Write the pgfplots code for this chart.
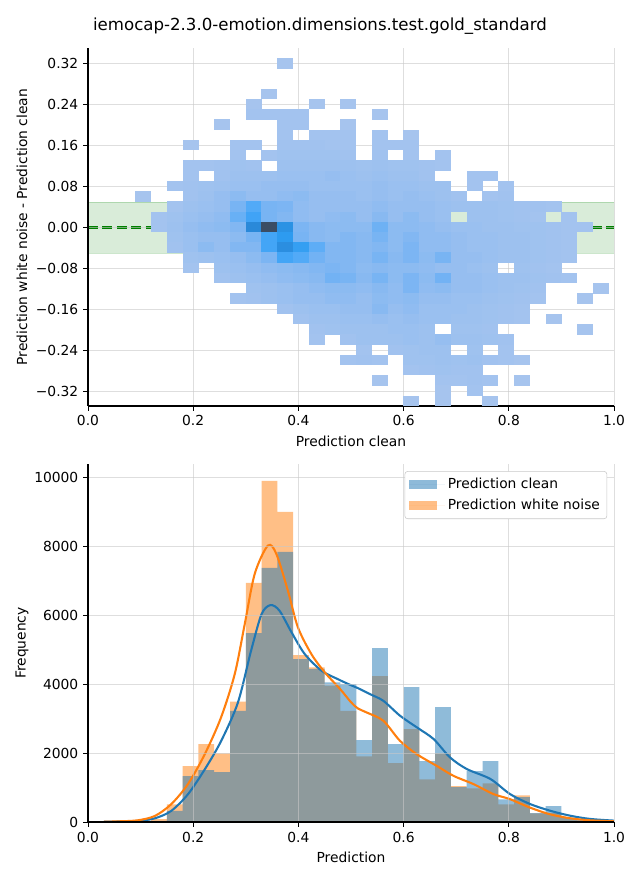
\documentclass[border=0pt]{standalone}
\usepackage{fontspec}
\setmainfont{DejaVu Sans}
\usepackage{pgfplots}
\pgfplotsset{compat=1.18}
\definecolor{cZero}{HTML}{1F77B4}
\definecolor{cOne}{HTML}{FF7F0E}
\definecolor{mplgreen}{RGB}{0,128,0}
\definecolor{gridc}{RGB}{200,200,200}
\pgfdeclareplotmark{cell}{\pgfpathrectangle{\pgfpoint{-5.78pt}{-3.78pt}}{\pgfpoint{11.56pt}{7.56pt}}\pgfusepathqfill}
\pgfplotsset{
  common/.style={
    scale only axis, width=5.26in, height=3.58in,
    axis x line*=bottom, axis y line*=left,
    tick align=outside, major tick length=3.5pt,
    tick style={black, line width=0.6pt},
    axis line style={black, line width=0.8pt},
    grid=major, grid style={draw=gridc, draw opacity=0.6, line width=0.6pt},
    axis on top,
    xmin=0, xmax=1,
    xtick={0,0.2,0.4,0.6,0.8,1},
    xticklabels={0.0,0.2,0.4,0.6,0.8,1.0},
    tick label style={font=\fontsize{10}{12}\selectfont},
    label style={font=\fontsize{10}{12}\selectfont},
    xlabel style={at={(axis description cs:0.5,-0.0978)}, anchor=center},
    ylabel style={at={(axis description cs:-0.1255,0.5)}, anchor=center, rotate=0},
  }
}
\begin{document}
\begin{tikzpicture}
\path[use as bounding box] (0,0) rectangle (6.4in,8.8in);
\node[font=\fontsize{12}{14}\selectfont] at (3.2in,8.535in) {iemocap-2.3.0-emotion.dimensions.test.gold\_standard};
\begin{axis}[common,
  at={(0.88in,4.74in)}, anchor=south west,
  ymin=-0.349, ymax=0.351,
  ytick={-0.32,-0.24,-0.16,-0.08,0,0.08,0.16,0.24,0.32},
  yticklabels={−0.32,−0.24,−0.16,−0.08,0.00,0.08,0.16,0.24,0.32},
  xlabel={Prediction clean},
  ylabel={Prediction white noise - Prediction clean},
  colormap={sb}{rgb255(0pt)=(170,198,238); rgb255(15pt)=(150,190,240); rgb255(30pt)=(120,180,243); rgb255(45pt)=(72,167,248); rgb255(55pt)=(45,155,240); rgb255(70pt)=(40,128,205); rgb255(100pt)=(59,77,100)},
  point meta min=0, point meta max=1,
]
\addplot[fill=mplgreen, fill opacity=0.15, draw=mplgreen, draw opacity=0.2] coordinates {(0,-0.05) (1,-0.05) (1,0.05) (0,0.05)} -- cycle;
\addplot[scatter, only marks, mark=cell, point meta=explicit, scatter/use mapped color={draw=mapped color, fill=mapped color}] coordinates {
(0.375,0.321)[0.03]
(0.345,0.261)[0.03]
(0.315,0.241)[0.03] (0.435,0.241)[0.03] (0.495,0.241)[0.03]
(0.315,0.221)[0.05] (0.345,0.221)[0.05] (0.375,0.221)[0.05] (0.405,0.221)[0.05] (0.555,0.221)[0.03]
(0.255,0.201)[0.03] (0.375,0.201)[0.05] (0.405,0.201)[0.05] (0.495,0.201)[0.03]
(0.375,0.181)[0.05] (0.435,0.181)[0.05] (0.465,0.181)[0.05] (0.495,0.181)[0.05] (0.555,0.181)[0.05] (0.615,0.181)[0.03]
(0.195,0.161)[0.03] (0.285,0.161)[0.05] (0.315,0.161)[0.05] (0.375,0.161)[0.07] (0.405,0.161)[0.07] (0.435,0.161)[0.07] (0.465,0.161)[0.05] (0.495,0.161)[0.05] (0.555,0.161)[0.05] (0.585,0.161)[0.05] (0.615,0.161)[0.05]
(0.285,0.141)[0.05] (0.345,0.141)[0.05] (0.375,0.141)[0.08] (0.405,0.141)[0.08] (0.435,0.141)[0.08] (0.465,0.141)[0.08] (0.495,0.141)[0.07] (0.555,0.141)[0.07] (0.615,0.141)[0.05] (0.675,0.141)[0.05]
(0.195,0.121)[0.05] (0.225,0.121)[0.05] (0.255,0.121)[0.07] (0.285,0.121)[0.08] (0.315,0.121)[0.07] (0.375,0.121)[0.1] (0.405,0.121)[0.1] (0.435,0.121)[0.1] (0.465,0.121)[0.1] (0.495,0.121)[0.1] (0.525,0.121)[0.08] (0.555,0.121)[0.1] (0.585,0.121)[0.08] (0.615,0.121)[0.08] (0.645,0.121)[0.07] (0.675,0.121)[0.05]
(0.195,0.101)[0.05] (0.255,0.101)[0.07] (0.285,0.101)[0.1] (0.315,0.101)[0.1] (0.345,0.101)[0.1] (0.375,0.101)[0.12] (0.405,0.101)[0.12] (0.435,0.101)[0.12] (0.465,0.101)[0.15] (0.495,0.101)[0.12] (0.525,0.101)[0.1] (0.555,0.101)[0.12] (0.585,0.101)[0.1] (0.615,0.101)[0.1] (0.645,0.101)[0.07] (0.735,0.101)[0.05] (0.765,0.101)[0.05]
(0.165,0.081)[0.05] (0.195,0.081)[0.07] (0.225,0.081)[0.08] (0.255,0.081)[0.1] (0.285,0.081)[0.12] (0.315,0.081)[0.12] (0.345,0.081)[0.15] (0.375,0.081)[0.15] (0.405,0.081)[0.15] (0.435,0.081)[0.12] (0.465,0.081)[0.12] (0.495,0.081)[0.12] (0.525,0.081)[0.12] (0.555,0.081)[0.15] (0.585,0.081)[0.12] (0.615,0.081)[0.12] (0.645,0.081)[0.1] (0.675,0.081)[0.1] (0.735,0.081)[0.05] (0.795,0.081)[0.05]
(0.105,0.061)[0.03] (0.195,0.061)[0.07] (0.225,0.061)[0.1] (0.255,0.061)[0.15] (0.285,0.061)[0.2] (0.315,0.061)[0.15] (0.345,0.061)[0.15] (0.375,0.061)[0.18] (0.405,0.061)[0.2] (0.435,0.061)[0.15] (0.465,0.061)[0.15] (0.495,0.061)[0.15] (0.525,0.061)[0.12] (0.555,0.061)[0.15] (0.585,0.061)[0.12] (0.615,0.061)[0.15] (0.645,0.061)[0.12] (0.675,0.061)[0.1] (0.705,0.061)[0.07] (0.765,0.061)[0.05] (0.795,0.061)[0.07]
(0.165,0.041)[0.05] (0.195,0.041)[0.1] (0.225,0.041)[0.12] (0.255,0.041)[0.15] (0.285,0.041)[0.3] (0.315,0.041)[0.42] (0.345,0.041)[0.3] (0.375,0.041)[0.28] (0.405,0.041)[0.18] (0.435,0.041)[0.15] (0.465,0.041)[0.15] (0.495,0.041)[0.15] (0.525,0.041)[0.15] (0.555,0.041)[0.18] (0.585,0.041)[0.15] (0.615,0.041)[0.15] (0.645,0.041)[0.15] (0.675,0.041)[0.12] (0.705,0.041)[0.1] (0.735,0.041)[0.1] (0.765,0.041)[0.1] (0.795,0.041)[0.08] (0.825,0.041)[0.07] (0.855,0.041)[0.07] (0.885,0.041)[0.05]
(0.135,0.021)[0.05] (0.165,0.021)[0.08] (0.195,0.021)[0.12] (0.225,0.021)[0.15] (0.255,0.021)[0.18] (0.285,0.021)[0.35] (0.315,0.021)[0.48] (0.345,0.021)[0.3] (0.375,0.021)[0.25] (0.405,0.021)[0.18] (0.435,0.021)[0.15] (0.465,0.021)[0.18] (0.495,0.021)[0.2] (0.525,0.021)[0.15] (0.555,0.021)[0.22] (0.585,0.021)[0.15] (0.615,0.021)[0.2] (0.645,0.021)[0.15] (0.675,0.021)[0.12] (0.735,0.021)[0.1] (0.765,0.021)[0.1] (0.795,0.021)[0.08] (0.825,0.021)[0.07] (0.855,0.021)[0.05] (0.915,0.021)[0.05]
(0.135,0.001)[0.05] (0.165,0.001)[0.1] (0.195,0.001)[0.15] (0.225,0.001)[0.18] (0.255,0.001)[0.2] (0.285,0.001)[0.25] (0.315,0.001)[0.65] (0.345,0.001)[1.0] (0.375,0.001)[0.6] (0.405,0.001)[0.28] (0.435,0.001)[0.22] (0.465,0.001)[0.2] (0.495,0.001)[0.2] (0.525,0.001)[0.2] (0.555,0.001)[0.33] (0.585,0.001)[0.2] (0.615,0.001)[0.2] (0.645,0.001)[0.18] (0.675,0.001)[0.15] (0.705,0.001)[0.12] (0.735,0.001)[0.12] (0.765,0.001)[0.1] (0.795,0.001)[0.1] (0.825,0.001)[0.08] (0.855,0.001)[0.08] (0.885,0.001)[0.07] (0.915,0.001)[0.05] (0.945,0.001)[0.05]
(0.165,-0.019)[0.08] (0.195,-0.019)[0.12] (0.225,-0.019)[0.15] (0.255,-0.019)[0.15] (0.285,-0.019)[0.2] (0.315,-0.019)[0.3] (0.345,-0.019)[0.47] (0.375,-0.019)[0.55] (0.405,-0.019)[0.3] (0.435,-0.019)[0.22] (0.465,-0.019)[0.2] (0.495,-0.019)[0.25] (0.525,-0.019)[0.22] (0.555,-0.019)[0.3] (0.585,-0.019)[0.2] (0.615,-0.019)[0.25] (0.645,-0.019)[0.18] (0.675,-0.019)[0.18] (0.705,-0.019)[0.15] (0.735,-0.019)[0.12] (0.765,-0.019)[0.12] (0.795,-0.019)[0.1] (0.825,-0.019)[0.1] (0.855,-0.019)[0.08] (0.885,-0.019)[0.07] (0.915,-0.019)[0.05]
(0.165,-0.039)[0.07] (0.195,-0.039)[0.12] (0.225,-0.039)[0.2] (0.255,-0.039)[0.15] (0.285,-0.039)[0.25] (0.315,-0.039)[0.25] (0.345,-0.039)[0.47] (0.375,-0.039)[0.62] (0.405,-0.039)[0.52] (0.435,-0.039)[0.38] (0.465,-0.039)[0.25] (0.495,-0.039)[0.25] (0.525,-0.039)[0.22] (0.555,-0.039)[0.25] (0.585,-0.039)[0.2] (0.615,-0.039)[0.28] (0.645,-0.039)[0.18] (0.675,-0.039)[0.18] (0.705,-0.039)[0.15] (0.735,-0.039)[0.12] (0.765,-0.039)[0.12] (0.795,-0.039)[0.1] (0.825,-0.039)[0.1] (0.855,-0.039)[0.08] (0.885,-0.039)[0.07] (0.915,-0.039)[0.05]
(0.195,-0.059)[0.08] (0.225,-0.059)[0.1] (0.255,-0.059)[0.12] (0.285,-0.059)[0.15] (0.315,-0.059)[0.2] (0.345,-0.059)[0.28] (0.375,-0.059)[0.47] (0.405,-0.059)[0.42] (0.435,-0.059)[0.32] (0.465,-0.059)[0.25] (0.495,-0.059)[0.25] (0.525,-0.059)[0.22] (0.555,-0.059)[0.3] (0.585,-0.059)[0.22] (0.615,-0.059)[0.28] (0.645,-0.059)[0.2] (0.675,-0.059)[0.3] (0.705,-0.059)[0.15] (0.735,-0.059)[0.15] (0.765,-0.059)[0.12] (0.795,-0.059)[0.1] (0.825,-0.059)[0.1] (0.855,-0.059)[0.08] (0.885,-0.059)[0.07] (0.915,-0.059)[0.05]
(0.195,-0.079)[0.05] (0.255,-0.079)[0.1] (0.285,-0.079)[0.12] (0.315,-0.079)[0.15] (0.345,-0.079)[0.18] (0.375,-0.079)[0.2] (0.405,-0.079)[0.22] (0.435,-0.079)[0.25] (0.465,-0.079)[0.28] (0.495,-0.079)[0.25] (0.525,-0.079)[0.2] (0.555,-0.079)[0.22] (0.585,-0.079)[0.2] (0.615,-0.079)[0.2] (0.645,-0.079)[0.18] (0.675,-0.079)[0.15] (0.705,-0.079)[0.15] (0.735,-0.079)[0.12] (0.765,-0.079)[0.1] (0.825,-0.079)[0.08] (0.855,-0.079)[0.07] (0.885,-0.079)[0.05]
(0.255,-0.099)[0.07] (0.285,-0.099)[0.1] (0.315,-0.099)[0.12] (0.345,-0.099)[0.15] (0.375,-0.099)[0.18] (0.405,-0.099)[0.2] (0.435,-0.099)[0.22] (0.465,-0.099)[0.32] (0.495,-0.099)[0.3] (0.525,-0.099)[0.22] (0.555,-0.099)[0.3] (0.585,-0.099)[0.2] (0.615,-0.099)[0.28] (0.645,-0.099)[0.2] (0.675,-0.099)[0.32] (0.705,-0.099)[0.15] (0.735,-0.099)[0.15] (0.765,-0.099)[0.12] (0.795,-0.099)[0.1] (0.825,-0.099)[0.1] (0.855,-0.099)[0.08] (0.885,-0.099)[0.07] (0.915,-0.099)[0.05]
(0.315,-0.119)[0.08] (0.345,-0.119)[0.1] (0.375,-0.119)[0.12] (0.405,-0.119)[0.15] (0.435,-0.119)[0.18] (0.465,-0.119)[0.2] (0.495,-0.119)[0.2] (0.525,-0.119)[0.18] (0.555,-0.119)[0.22] (0.585,-0.119)[0.18] (0.615,-0.119)[0.28] (0.645,-0.119)[0.18] (0.675,-0.119)[0.2] (0.705,-0.119)[0.15] (0.735,-0.119)[0.15] (0.765,-0.119)[0.12] (0.795,-0.119)[0.1] (0.825,-0.119)[0.08] (0.855,-0.119)[0.07] (0.975,-0.119)[0.03]
(0.285,-0.139)[0.05] (0.315,-0.139)[0.07] (0.345,-0.139)[0.1] (0.375,-0.139)[0.12] (0.405,-0.139)[0.15] (0.435,-0.139)[0.15] (0.465,-0.139)[0.18] (0.495,-0.139)[0.18] (0.525,-0.139)[0.15] (0.555,-0.139)[0.2] (0.585,-0.139)[0.18] (0.615,-0.139)[0.2] (0.645,-0.139)[0.15] (0.675,-0.139)[0.15] (0.705,-0.139)[0.12] (0.735,-0.139)[0.12] (0.765,-0.139)[0.1] (0.795,-0.139)[0.08] (0.825,-0.139)[0.07] (0.855,-0.139)[0.05] (0.945,-0.139)[0.03]
(0.375,-0.159)[0.07] (0.405,-0.159)[0.1] (0.435,-0.159)[0.12] (0.465,-0.159)[0.12] (0.495,-0.159)[0.15] (0.525,-0.159)[0.15] (0.555,-0.159)[0.22] (0.585,-0.159)[0.15] (0.615,-0.159)[0.18] (0.645,-0.159)[0.12] (0.675,-0.159)[0.12] (0.705,-0.159)[0.12] (0.735,-0.159)[0.1] (0.765,-0.159)[0.08] (0.795,-0.159)[0.07] (0.825,-0.159)[0.05]
(0.405,-0.179)[0.07] (0.435,-0.179)[0.1] (0.465,-0.179)[0.1] (0.495,-0.179)[0.12] (0.525,-0.179)[0.12] (0.555,-0.179)[0.15] (0.585,-0.179)[0.12] (0.615,-0.179)[0.15] (0.645,-0.179)[0.12] (0.675,-0.179)[0.12] (0.705,-0.179)[0.1] (0.735,-0.179)[0.1] (0.765,-0.179)[0.08] (0.795,-0.179)[0.07] (0.825,-0.179)[0.05] (0.885,-0.179)[0.03]
(0.435,-0.199)[0.07] (0.465,-0.199)[0.08] (0.495,-0.199)[0.1] (0.525,-0.199)[0.1] (0.555,-0.199)[0.1] (0.585,-0.199)[0.12] (0.615,-0.199)[0.12] (0.645,-0.199)[0.1] (0.705,-0.199)[0.08] (0.735,-0.199)[0.08] (0.765,-0.199)[0.07] (0.945,-0.199)[0.03]
(0.435,-0.219)[0.05] (0.495,-0.219)[0.07] (0.525,-0.219)[0.1] (0.555,-0.219)[0.1] (0.585,-0.219)[0.1] (0.615,-0.219)[0.12] (0.645,-0.219)[0.1] (0.675,-0.219)[0.15] (0.705,-0.219)[0.1] (0.735,-0.219)[0.1] (0.765,-0.219)[0.08] (0.795,-0.219)[0.07]
(0.525,-0.239)[0.05] (0.585,-0.239)[0.07] (0.615,-0.239)[0.08] (0.645,-0.239)[0.1] (0.675,-0.239)[0.1] (0.735,-0.239)[0.08] (0.795,-0.239)[0.05]
(0.495,-0.259)[0.05] (0.525,-0.259)[0.07] (0.555,-0.259)[0.05] (0.615,-0.259)[0.08] (0.645,-0.259)[0.08] (0.675,-0.259)[0.1] (0.705,-0.259)[0.08] (0.735,-0.259)[0.1] (0.765,-0.259)[0.07] (0.795,-0.259)[0.05] (0.825,-0.259)[0.03]
(0.615,-0.279)[0.05] (0.645,-0.279)[0.07] (0.675,-0.279)[0.08] (0.705,-0.279)[0.07] (0.735,-0.279)[0.07]
(0.555,-0.299)[0.03] (0.675,-0.299)[0.05] (0.705,-0.299)[0.05] (0.735,-0.299)[0.07] (0.765,-0.299)[0.05] (0.825,-0.299)[0.03]
(0.675,-0.319)[0.03] (0.735,-0.319)[0.05]
(0.615,-0.339)[0.03] (0.675,-0.339)[0.03] (0.765,-0.339)[0.03]
};
\addplot[mplgreen, line width=1.8pt, dash pattern=on 7.2pt off 3.2pt] coordinates {(0,0) (1,0)};
\end{axis}

\begin{axis}[common,
  at={(0.88in,0.58in)}, anchor=south west,
  ymin=0, ymax=10400,
  ytick={0,2000,4000,6000,8000,10000},
  yticklabels={0,2000,4000,6000,8000,10000},
  scaled y ticks=false,
  xlabel={Prediction},
  ylabel={Frequency},
  reverse legend,
  legend cell align=left,
  legend style={at={(axis description cs:0.987,0.980)}, anchor=north east, draw=gridc, rounded corners=2pt, fill=white, font=\fontsize{10}{12}\selectfont, inner xsep=3pt, inner ysep=3pt, row sep=2pt},
]
\addplot[ybar interval, fill=cOne, fill opacity=0.5, draw=none,
  legend image code/.code={\fill[sharp corners, cOne, fill opacity=0.5] (0pt,-3.5pt) rectangle (20pt,3.5pt); \path (0pt,0pt) -- (26pt,0pt);}] coordinates {
(0.03,10) (0.06,15) (0.09,30) (0.12,80) (0.15,515) (0.18,1620) (0.21,2260) (0.24,1990) (0.27,3500) (0.30,6945) (0.33,9910) (0.36,9010) (0.39,4850) (0.42,4490) (0.45,3960) (0.48,3230) (0.51,1910) (0.54,4240) (0.57,1710) (0.60,2700) (0.63,1240) (0.66,1990) (0.69,1040) (0.72,980) (0.75,1125) (0.78,515) (0.81,775) (0.84,250) (0.87,260) (0.90,110) (0.93,50) (0.96,25) (0.99,0)};
\addlegendentry{Prediction white noise}
\addplot[ybar interval, fill=cZero, fill opacity=0.5, draw=none,
  legend image code/.code={\fill[sharp corners, cZero, fill opacity=0.5] (0pt,-3.5pt) rectangle (20pt,3.5pt); \path (0pt,0pt) -- (26pt,0pt);}] coordinates {
(0.03,5) (0.06,10) (0.09,15) (0.12,30) (0.15,320) (0.18,1330) (0.21,1505) (0.24,1450) (0.27,3230) (0.30,5490) (0.33,7380) (0.36,7850) (0.39,4735) (0.42,4450) (0.45,4055) (0.48,4005) (0.51,2375) (0.54,5050) (0.57,2260) (0.60,3920) (0.63,1765) (0.66,3340) (0.69,1010) (0.72,1475) (0.75,1765) (0.78,660) (0.81,725) (0.84,260) (0.87,460) (0.90,130) (0.93,60) (0.96,30) (0.99,0)};
\addlegendentry{Prediction clean}
\addplot[cZero, line width=1.5pt, smooth, forget plot] coordinates {
(0.03,8) (0.06,15) (0.095,30) (0.127,107) (0.158,320) (0.19,805) (0.222,1530) (0.253,2350) (0.285,3470) (0.31,4975) (0.33,6040) (0.347,6300) (0.364,6140) (0.387,5510) (0.412,4880) (0.444,4395) (0.475,4150) (0.498,3986) (0.513,3890) (0.536,3715) (0.5615,3520) (0.593,3090) (0.625,2750) (0.657,2410) (0.688,1880) (0.72,1540) (0.765,1250) (0.802,815) (0.84,525) (0.878,330) (0.916,185) (0.954,90) (1.0,40)};
\addplot[cOne, line width=1.5pt, smooth, forget plot] coordinates {
(0.03,8) (0.06,20) (0.095,50) (0.127,175) (0.158,515) (0.19,1100) (0.222,1970) (0.253,3040) (0.279,4300) (0.298,5750) (0.317,7210) (0.342,8030) (0.358,7790) (0.38,6720) (0.399,5660) (0.4246,4880) (0.45,4350) (0.48,3850) (0.50,3480) (0.513,3300) (0.53,3180) (0.5615,2940) (0.593,2360) (0.625,1970) (0.663,1630) (0.695,1340) (0.733,1100) (0.771,810) (0.802,665) (0.84,420) (0.878,225) (0.916,110) (0.954,50) (1.0,20)};
\end{axis}
\end{tikzpicture}
\end{document}
